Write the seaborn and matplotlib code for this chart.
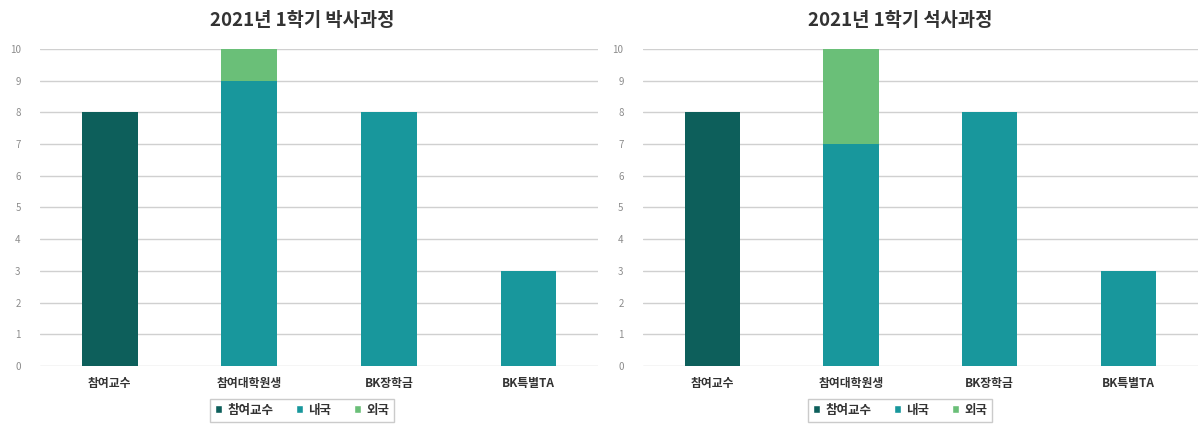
import matplotlib
matplotlib.use("Agg")
import matplotlib.pyplot as plt
import seaborn as sns
import pandas as pd
from matplotlib.patches import Patch

sns.set_theme(style="white")
plt.rcParams['font.family'] = ['Noto Sans CJK KR', 'DejaVu Sans']

categories = ["참여교수", "참여대학원생", "BK장학금", "BK특별TA"]
series_names = ["참여교수", "내국", "외국"]
titles = ["2021년 1학기 박사과정", "2021년 1학기 석사과정"]

phd_prof = [8, 0, 0, 0]
phd_dom = [0, 9, 8, 3]
phd_for = [0, 1, 0, 0]

ms_prof = [8, 0, 0, 0]
ms_dom = [0, 7, 8, 3]
ms_for = [0, 3, 0, 0]

colors = ["#0d5f5b", "#18979c", "#6abf78"]

fig = plt.figure(figsize=(12.03, 4.28), dpi=100)
ax1 = fig.add_axes([0.0333, 0.145, 0.464, 0.741])
ax2 = fig.add_axes([0.5345, 0.145, 0.461, 0.741])

datasets = [(phd_prof, phd_dom, phd_for), (ms_prof, ms_dom, ms_for)]
centers = [0.251, 0.748]

for ax, (prof, dom, fore), title, cx in zip([ax1, ax2], datasets, titles, centers):
    df = pd.DataFrame({"cat": categories, "prof": prof, "dom": dom, "for": fore})
    bottoms = [0] * len(categories)
    for col, color in zip(["prof", "dom", "for"], colors):
        sns.barplot(data=df, x="cat", y=col, color=color, ax=ax, width=0.4,
                    bottom=bottoms, saturation=1, zorder=3, linewidth=0)
        bottoms = [b + v for b, v in zip(bottoms, df[col])]
    ax.set_ylim(0, 10)
    ax.set_yticks(range(0, 11))
    ax.yaxis.grid(True, color="#d0d0d0", linewidth=1, zorder=0)
    ax.set_axisbelow(True)
    for s in ax.spines.values():
        s.set_visible(False)
    ax.set_xlabel("")
    ax.set_ylabel("")
    ax.tick_params(axis="y", labelsize=7, colors="#8c8c8c", length=0, pad=14)
    ax.tick_params(axis="x", labelsize=8.5, colors="#333333", length=0, pad=8)
    for lbl in ax.get_xticklabels():
        lbl.set_fontweight("bold")
    fig.text(cx, 0.953, title, fontsize=13.5, fontweight="bold", color="#333333",
             ha="center", va="center")
    handles = [Patch(facecolor=c, label=n) for c, n in zip(colors, series_names)]
    leg = ax.legend(handles=handles, loc="center", bbox_to_anchor=(cx, 0.042),
                    bbox_transform=fig.transFigure,
                    ncol=3, frameon=True, fontsize=9, handlelength=0.6, handleheight=0.6,
                    handletextpad=0.4, columnspacing=1.8, borderpad=0.4)
    leg.get_frame().set_edgecolor("#bfbfbf")
    leg.get_frame().set_boxstyle("square", pad=0)
    for t in leg.get_texts():
        t.set_color("#333333")
        t.set_fontweight("bold")

fig.savefig("out.png", dpi=100, facecolor="white")
